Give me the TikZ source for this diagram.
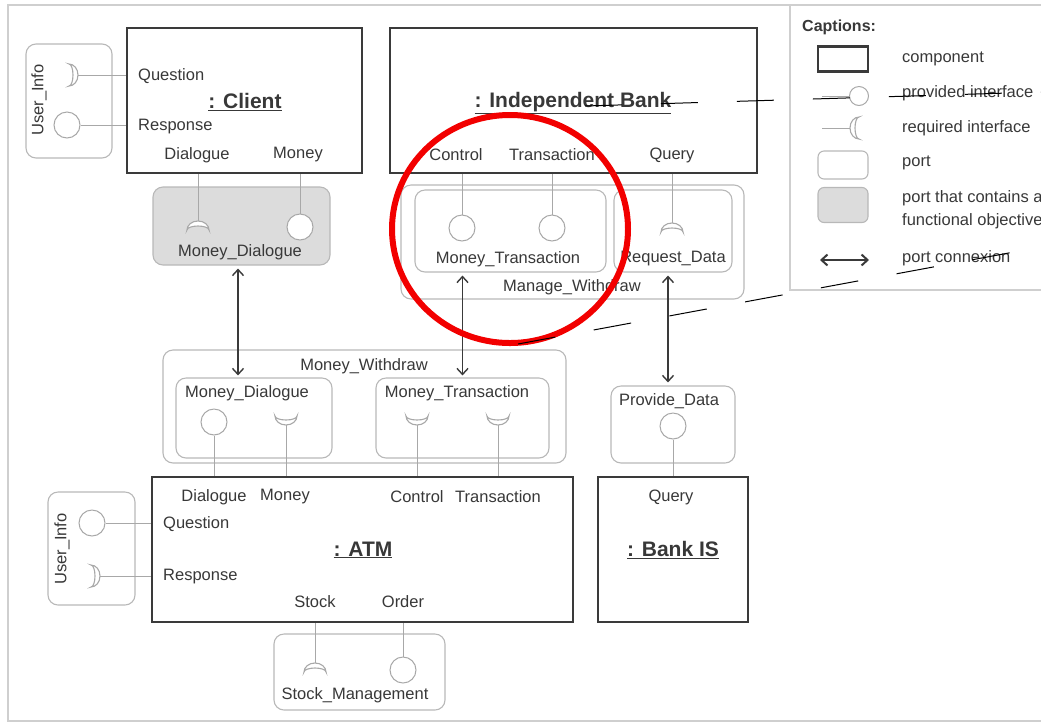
\documentclass[tikz,border=0pt]{standalone}
\usepackage{fontspec}
\setmainfont{Liberation Sans}
\usetikzlibrary{arrows.meta}
\definecolor{compcol}{HTML}{3A3A3A}
\definecolor{portcol}{HTML}{B8B8B8}
\definecolor{ifcol}{HTML}{A8A8A8}
\definecolor{fillcol}{HTML}{DCDCDC}
\definecolor{txtcol}{HTML}{383838}
\definecolor{framecol}{HTML}{CFCFCF}
\definecolor{markred}{HTML}{F20000}

\begin{document}
\begin{tikzpicture}[x=1pt,y=-1pt,
    comp/.style={draw=compcol,line width=2.6pt,inner sep=0pt},
    port/.style={draw=portcol,line width=1.1pt,rounded corners=10pt,inner sep=0pt},
    fport/.style={port,fill=fillcol},
    prov/.style={circle,draw=ifcol,line width=1pt,fill=white,minimum size=26pt,inner sep=0pt},
    wire/.style={draw=ifcol,line width=1pt},
    conn/.style={{Straight Barb[length=6pt,width=11pt]}-{Straight Barb[length=6pt,width=11pt]},draw=compcol,line width=1.4pt},
    lbl/.style={text=txtcol,font=\fontsize{16.5}{18}\selectfont,inner sep=0pt},
    ttl/.style={text=txtcol,font=\fontsize{21}{24}\selectfont\bfseries,inner sep=0pt},
    pics/socket/.style={code={
        \draw[ifcol,line width=1.1pt,fill=white] (-11,0) arc[start angle=180,end angle=0,x radius=11,y radius=9]
            arc[start angle=0,end angle=180,x radius=11,y radius=4] -- cycle;
        \coordinate (-s) at (0,9);}}]
    \useasboundingbox (0,0) rectangle (1041,724);
    % 外框与图例框
    \draw[framecol,line width=1.4pt] (8,5) rectangle (1060,721);
    \draw[framecol,line width=1.4pt] (790,5) rectangle (1060,290);

    % 组件
    \node[comp,minimum width=235pt,minimum height=145pt] (client) at (244.5,100.5) {};
    \node[comp,minimum width=367pt,minimum height=145pt] (bank) at (573.5,100.5) {};
    \node[comp,minimum width=421pt,minimum height=145pt] (atm) at (362.5,549.5) {};
    \node[comp,minimum width=150pt,minimum height=145pt] (bis) at (673,549.5) {};

    \node[lbl,anchor=west] at (138,76) {Question};
    \node[lbl,anchor=west] at (138,127) {Response};
    \node[ttl] at (245,102) {\underline{: Client}};
    \node[lbl] at (197,155) {Dialogue};
    \node[lbl] at (298,155) {Money};

    \node[ttl] at (573,103) {\underline{: Independent Bank}};
    \node[lbl] at (456,155) {Control};
    \node[lbl] at (552,155) {Transaction};
    \node[lbl] at (672,155) {Query};

    \node[lbl] at (214,497) {Dialogue};
    \node[lbl] at (285,497) {Money};
    \node[lbl] at (417,497) {Control};
    \node[lbl] at (498,497) {Transaction};
    \node[lbl,anchor=west] at (163,524) {Question};
    \node[lbl,anchor=west] at (163,577) {Response};
    \node[ttl] at (363,550) {\underline{: ATM}};
    \node[lbl] at (315,602) {Stock};
    \node[lbl] at (403,602) {Order};

    \node[lbl] at (671,497) {Query};
    \node[ttl] at (673,550) {\underline{: Bank IS}};

    % 端口
    \node[port,minimum width=86pt,minimum height=114pt] (uiC) at (69,101) {};
    \node[lbl,rotate=90] at (39,100) {User\_Info};
    \pic[rotate=90] (uiCq) at (69,75) {socket};
    \node[prov] (uiCr) at (67,125) {};
    \draw[wire] (uiCq-s) -- (uiCq-s -| client.west);
    \draw[wire] (uiCr.east) -- (uiCr.east -| client.west);

    \node[fport,minimum width=177pt,minimum height=78pt] (mdG) at (241.5,226) {};
    \node[lbl] at (240,252) {Money\_Dialogue};
    \pic[rotate=180] (mdGq) at (198,230) {socket};
    \node[prov] (mdGr) at (300,227) {};
    \draw[wire] (mdGq-s) -- (mdGq-s |- client.south);
    \draw[wire] (mdGr.north) -- (mdGr.north |- client.south);

    \node[port,minimum width=343pt,minimum height=114pt] (mw) at (572.5,242) {};
    \node[lbl] at (572,287) {Manage\_Withdraw};
    \node[port,minimum width=191pt,minimum height=82pt] (mtB) at (510.5,231) {};
    \node[lbl] at (508,259) {Money\_Transaction};
    \node[port,minimum width=118pt,minimum height=82pt] (rd) at (673,231) {};
    \node[lbl] at (673,259) {Request\_Data};
    \node[prov] (mtBc) at (462,228) {};
    \node[prov] (mtBt) at (552,228) {};
    \pic[rotate=180] (rdq) at (672,232) {socket};
    \draw[wire] (mtBc.north) -- (mtBc.north |- bank.south);
    \draw[wire] (mtBt.north) -- (mtBt.north |- bank.south);
    \draw[wire] (rdq-s) -- (rdq-s |- bank.south);

    \node[port,minimum width=403pt,minimum height=113pt] (mwd) at (364.5,406.5) {};
    \node[lbl] at (364,366) {Money\_Withdraw};
    \node[port,minimum width=156pt,minimum height=80pt] (mdA) at (254,418) {};
    \node[lbl] at (247,393) {Money\_Dialogue};
    \node[port,minimum width=173pt,minimum height=80pt] (mtA) at (462.5,418) {};
    \node[lbl] at (457,393) {Money\_Transaction};
    \node[prov] (mdAd) at (214,422) {};
    \pic (mdAq) at (286,416) {socket};
    \pic (mtAc) at (417,416) {socket};
    \pic (mtAt) at (498,416) {socket};
    \draw[wire] (mdAd.south) -- (mdAd.south |- atm.north);
    \draw[wire] (mdAq-s) -- (mdAq-s |- atm.north);
    \draw[wire] (mtAc-s) -- (mtAc-s |- atm.north);
    \draw[wire] (mtAt-s) -- (mtAt-s |- atm.north);

    \node[port,minimum width=124pt,minimum height=77pt] (pd) at (673,424.5) {};
    \node[lbl] at (669,401) {Provide\_Data};
    \node[prov] (pdq) at (673,426) {};
    \draw[wire] (pdq.south) -- (pdq.south |- bis.north);

    \node[port,minimum width=87pt,minimum height=113pt] (uiA) at (91.5,548.5) {};
    \node[lbl,rotate=90] at (62,549) {User\_Info};
    \node[prov] (uiAr) at (92,523) {};
    \pic[rotate=90] (uiAq) at (91,576) {socket};
    \draw[wire] (uiAr.east) -- (uiAr.east -| atm.west);
    \draw[wire] (uiAq-s) -- (uiAq-s -| atm.west);

    \node[port,minimum width=171pt,minimum height=76pt] (sm) at (359.5,672) {};
    \node[lbl] at (355,695) {Stock\_Management};
    \pic[rotate=180] (smq) at (315,672) {socket};
    \node[prov] (smo) at (403,670) {};
    \draw[wire] (smq-s) -- (smq-s |- atm.south);
    \draw[wire] (smo.north) -- (smo.north |- atm.south);

    % 端口连接
    \draw[conn,shorten <=3pt,shorten >=2pt] ([xshift=-3.5pt]mdG.south) -- ([xshift=-3.5pt]mdG.south |- mdA.north);
    \draw[conn,shorten <=3pt,shorten >=2pt] (mtB.south -| mtA.north) -- (mtA.north);
    \draw[conn,shorten <=3pt,shorten >=3pt] ([xshift=-5pt]rd.south) -- ([xshift=-5pt]pd.north);

    % 图例
    \node[text=txtcol,font=\fontsize{16}{18}\selectfont\bfseries,anchor=west,inner sep=0pt] at (802,27) {Captions:};
    \node[comp,line width=2.2pt,minimum width=50pt,minimum height=25pt] (lgc) at (843,59) {};
    \node[prov,minimum size=19pt] (lgp) at (859,96) {};
    \coordinate (lgpl) at (822,96);
    \draw[wire] (lgpl) -- (lgp.west);
    \pic[rotate=-90] (lgr) at (859,128) {socket};
    \coordinate (lgrl) at (822,128);
    \draw[wire] (lgrl) -- (lgr-s);
    \node[port,rounded corners=6pt,minimum width=50pt,minimum height=28pt] (lgo) at (843,165) {};
    \node[fport,rounded corners=6pt,minimum width=50pt,minimum height=35pt] (lgf) at (843,205) {};
    \coordinate (lga) at (820,260);
    \coordinate (lgb) at (869,260);
    \draw[conn,line width=2pt] (lga) -- (lgb);
    \node[lbl,anchor=west] at (902,59) {component};
    \node[lbl,anchor=west] at (902,93) {provided interface};
    \node[lbl,anchor=west] at (902,128) {required interface};
    \node[lbl,anchor=west] at (902,163) {port};
    \node[lbl,anchor=west] at (902,198) {port that contains a};
    \node[lbl,anchor=west] at (902,221) {functional objective};
    \node[lbl,anchor=west] at (902,258) {port connexion};

    % 标注
    \draw[markred,line width=6pt] (510,229) ellipse [x radius=118,y radius=114];
    \draw[black,line width=1pt,dash pattern=on 37pt off 39pt] (585,106) -- (1041,92);
    \draw[black,line width=1pt,dash pattern=on 38pt off 39pt] (518,344) -- (1041,247);
\end{tikzpicture}
\end{document}
